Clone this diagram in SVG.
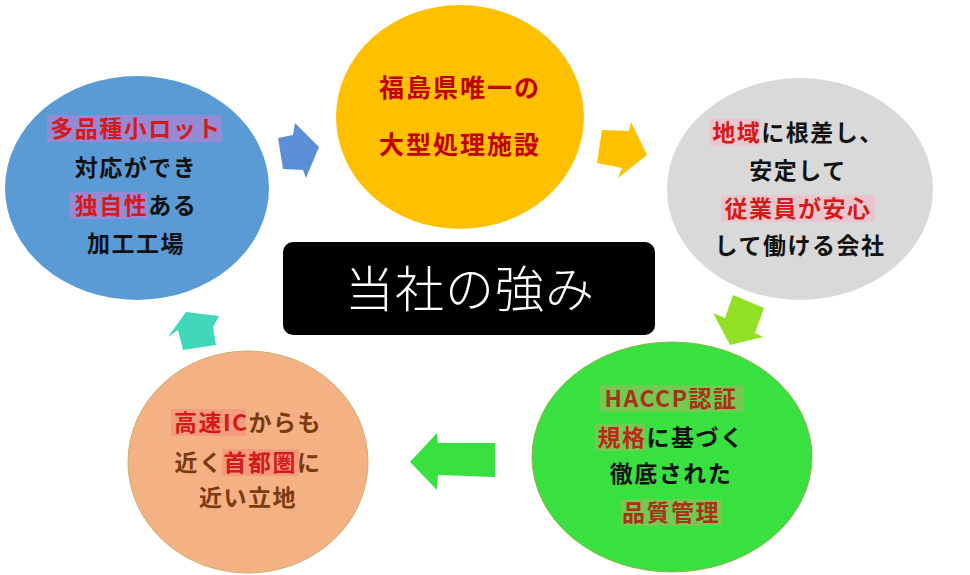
<svg xmlns="http://www.w3.org/2000/svg" width="970" height="575" viewBox="0 0 970 575">
<style>
.t{font-family:"Noto Sans CJK JP","Noto Sans",sans-serif;font-weight:700;font-size:23px;letter-spacing:1.5px;text-anchor:middle}
.k{fill:#111}
.r{fill:#D41A1A}
.dr{fill:#C00000}
.br{fill:#7A3A12}
.hl{opacity:0.55}
.title{font-family:"Noto Sans CJK JP","Noto Sans",sans-serif;font-weight:300;font-size:49px;fill:#fff;text-anchor:middle;letter-spacing:1px}
</style>
<rect width="970" height="575" fill="#fff"/>
<g id="connectors">
<polygon points="278,138 293,135 295,123 319,147 306,178 303,170 283,169" fill="#5B8FD6"/>
<polygon points="602,130 629,131 631,122 647,155 618,178 622,168 597,163" fill="#FFC000"/>
<polygon points="733,295 764,308 755,333 763,337 730,345 713,313 725,318" fill="#92E024"/>
<polygon points="410,462 437,433 438,443 495,443 495,477 438,475 437,490" fill="#38E040"/>
<polygon points="186,312 219,316 213,327 216,345 183,350 178,330 168,337" fill="#40D8B8"/>
</g>
<g id="node-blue">
<ellipse cx="137" cy="188" rx="132" ry="112" fill="#5B9BD5"/>
<rect class="hl" x="47" y="115" width="175" height="27" fill="#C57BD2"/>
<rect class="hl" x="70" y="192" width="78" height="27" fill="#C57BD2"/>
<text class="t" x="136" y="137"><tspan class="r">多品種小ロット</tspan></text>
<text class="t k" x="136" y="176">対応ができ</text>
<text class="t" x="136" y="214"><tspan class="r">独自性</tspan><tspan class="k">ある</tspan></text>
<text class="t k" x="136" y="252">加工工場</text>
</g>
<g id="node-yellow">
<ellipse cx="460" cy="117" rx="124" ry="112" fill="#FFC000"/>
<text class="t dr" x="460" y="97" style="font-size:25px;letter-spacing:2px">福島県唯一の</text>
<text class="t dr" x="460" y="154" style="font-size:25px;letter-spacing:2px">大型処理施設</text>
</g>
<g id="node-gray">
<ellipse cx="800" cy="189" rx="133" ry="111" fill="#D9D9D9"/>
<rect class="hl" x="710" y="119" width="50" height="27" fill="#F6B6C2"/>
<rect class="hl" x="721" y="195" width="154" height="27" fill="#F6B6C2"/>
<text class="t" x="798" y="141"><tspan class="r">地域</tspan><tspan class="k">に根差し、</tspan></text>
<text class="t k" x="798" y="179">安定して</text>
<text class="t r" x="798" y="217">従業員が安心</text>
<text class="t k" x="800" y="254">して働ける会社</text>
</g>
<g id="node-green">
<ellipse cx="672" cy="457" rx="140" ry="115" fill="#38E040" stroke="#9AAE4A" stroke-width="1"/>
<rect class="hl" x="600" y="385" width="144" height="27" fill="#A8B45C"/>
<rect class="hl" x="595" y="424" width="50" height="27" fill="#A8B45C"/>
<rect class="hl" x="621" y="499" width="101" height="27" fill="#A8B45C"/>
<text class="t" x="671" y="407" style="fill:#A8321A">HACCP認証</text>
<text class="t" x="671" y="446"><tspan style="fill:#C0281A">規格</tspan><tspan class="k">に基づく</tspan></text>
<text class="t k" x="671" y="482">徹底された</text>
<text class="t" x="671" y="521" style="fill:#A8321A">品質管理</text>
</g>
<g id="node-orange">
<ellipse cx="248" cy="462" rx="120" ry="111" fill="#F4B183" stroke="#C9B070" stroke-width="1"/>
<rect class="hl" x="171" y="409" width="75" height="27" fill="#F48A7A"/>
<rect class="hl" x="222" y="449" width="77" height="27" fill="#F48A7A"/>
<text class="t" x="248" y="431"><tspan class="r">高速IC</tspan><tspan class="br">からも</tspan></text>
<text class="t" x="248" y="471"><tspan class="br">近く</tspan><tspan class="r">首都圏</tspan><tspan class="br">に</tspan></text>
<text class="t br" x="248" y="506">近い立地</text>
</g>
<g id="node-title">
<rect x="283" y="242" width="372" height="93" rx="10" fill="#000"/>
<text class="title" x="470" y="307">当社の強み</text>
</g>
</svg>
